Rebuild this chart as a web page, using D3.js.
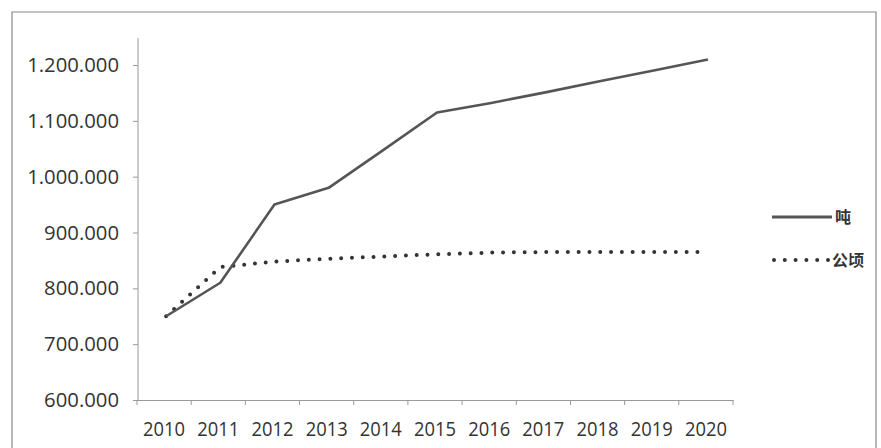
<!DOCTYPE html>
<html>
<head>
<meta charset="utf-8">
<script src="https://cdn.jsdelivr.net/npm/d3@7/dist/d3.min.js"></script>
<style>
  html, body { margin: 0; padding: 0; background: #fff; }
  svg { display: block; }
</style>
</head>
<body>
<svg id="chart" width="881" height="448"></svg>
<script>
const years = ["2010","2011","2012","2013","2014","2015","2016","2017","2018","2019","2020"];
const tonnes = [750000, 810000, 950000, 980000, 1047000, 1115000, 1132000, 1151000, 1171000, 1190000, 1210000];
const hectares = [750000, 838000, 848000, 853000, 857000, 861000, 864000, 865000, 865000, 865000, 865000];
const yTicks = [600000, 700000, 800000, 900000, 1000000, 1100000, 1200000];
const seriesNames = ["吨", "公顷"];

const svg = d3.select("#chart");
const fmt = v => d3.format(",")(v).replace(/,/g, ".");

// outer frame
svg.append("path")
  .attr("d", "M12,452 L12,12 L876,12 L876,452")
  .attr("fill", "none").attr("stroke", "#888").attr("stroke-width", 1.2);

const x = d3.scaleBand().domain(years).range([137, 733]);
const y = d3.scaleLinear().domain([600000, 1200000]).range([400, 65]);

// y axis
const yAxis = svg.append("g").attr("transform", "translate(138,0)")
  .call(d3.axisLeft(y).tickValues(yTicks).tickFormat(fmt).tickSize(5).tickPadding(14));
yAxis.select(".domain").attr("d", "M0,38V400");
// x axis
const xAxis = svg.append("g").attr("transform", "translate(0,400)")
  .call(d3.axisBottom(x).tickSize(0).tickPadding(22));
xAxis.selectAll(".tick").append("line")
  .attr("x1", -x.bandwidth()/2).attr("x2", -x.bandwidth()/2).attr("y2", 5);
xAxis.append("line").attr("x1", 733).attr("x2", 733).attr("y2", 5);

[yAxis, xAxis].forEach(g => {
  g.selectAll(".domain, line").attr("stroke", "#999").attr("stroke-width", 1);
  g.selectAll("text").attr("fill", "#333")
    .style("font-family", "'Open Sans', sans-serif").style("font-size", "20.3px");
});
xAxis.selectAll(".tick text")
  .attr("textLength", 42).attr("lengthAdjust", "spacingAndGlyphs");

const line = d3.line().x((d, i) => x(years[i]) + x.bandwidth()/2 + 2).y(d => y(d));

svg.append("path").datum(hectares).attr("d", line)
  .attr("fill", "none").attr("stroke", "#333").attr("stroke-width", 4)
  .attr("stroke-linecap", "round").attr("stroke-dasharray", "0,10.8");

svg.append("path").datum(tonnes).attr("d", line)
  .attr("fill", "none").attr("stroke", "#555").attr("stroke-width", 2.6)
  .attr("stroke-linejoin", "round");

// legend
const lg = svg.append("g");
lg.append("line").attr("x1", 772).attr("x2", 832).attr("y1", 217).attr("y2", 217)
  .attr("stroke", "#555").attr("stroke-width", 3);
lg.append("line").attr("x1", 774).attr("x2", 830).attr("y1", 260).attr("y2", 260)
  .attr("stroke", "#333").attr("stroke-width", 4).attr("stroke-linecap", "round")
  .attr("stroke-dasharray", "0,10.8");
lg.selectAll("text").data(seriesNames).join("text")
  .attr("x", (d, i) => i === 0 ? 835 : 832)
  .attr("y", (d, i) => i === 0 ? 223 : 266)
  .text(d => d)
  .attr("fill", "#333")
  .style("font-family", "'Noto Sans CJK SC', sans-serif")
  .style("font-size", "16px").style("font-weight", "bold");
</script>
</body>
</html>
